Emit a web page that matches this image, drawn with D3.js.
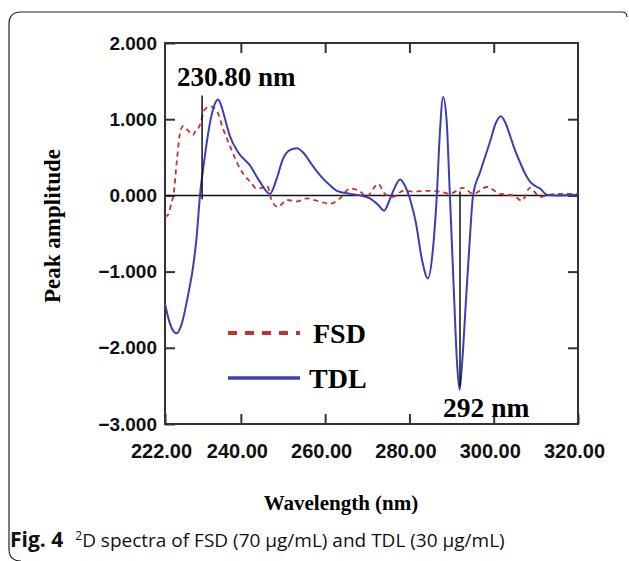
<!DOCTYPE html>
<html>
<head>
<meta charset="utf-8">
<script src="https://cdn.jsdelivr.net/npm/d3@7"></script>
<style>
  body { margin: 0; background: #fff; }
  svg { display: block; }
</style>
</head>
<body>
<div id="chart"></div>
<script>
// values
let tdlWave = [222, 223, 224, 224.8, 226, 227.5, 228.6, 229.5, 230.3, 231.3, 232.5, 233.5, 234.6, 235.5, 236.5, 237.4, 239.3, 242.2, 244.5, 246.9, 248.5, 250, 251.5, 253.3, 255, 256.4, 258, 259.5, 261, 262.8, 265.9, 268.3, 270.6, 272.5, 274, 275, 276.1, 277.8, 279, 280.1, 281.5, 283, 284.4, 285.5, 286.5, 287.2, 288, 288.8, 289.6, 290.5, 291.3, 291.9, 292.5, 293.5, 294.3, 295.1, 296.8, 299.1, 300.5, 301.7, 302.8, 303.9, 305, 306.2, 307.5, 308.6, 310, 311, 312.6, 315, 320];
let tdlAmp = [-1.42, -1.65, -1.78, -1.81, -1.68, -1.30, -0.96, -0.55, 0, 0.45, 0.90, 1.15, 1.26, 1.15, 0.95, 0.78, 0.57, 0.39, 0.18, 0.02, 0.22, 0.48, 0.59, 0.62, 0.55, 0.44, 0.32, 0.22, 0.14, 0.06, 0.02, 0.0, -0.04, -0.12, -0.20, -0.10, 0.05, 0.21, 0.12, -0.04, -0.35, -0.85, -1.09, -0.75, 0.0, 0.8, 1.29, 1.0, 0, -1.2, -2.2, -2.55, -2.2, -1.3, -0.6, 0, 0.31, 0.70, 0.95, 1.04, 0.95, 0.78, 0.6, 0.44, 0.28, 0.18, 0.12, 0.09, 0.01, 0.0, 0.01];

let fsdWave = [222, 222.8, 223.5, 224, 224.8, 225.6, 226.3, 227.5, 228.6, 229.3, 230, 231.5, 232.7, 234.3, 235.8, 237.4, 239.8, 242.2, 243.8, 245, 246.2, 247.4, 248.8, 250.9, 253.3, 255.7, 258, 261.2, 263.5, 265.9, 268.3, 269.9, 271.4, 272.6, 274.2, 276.1, 278.5, 280.9, 284.2, 287.3, 289.6, 292.7, 295.1, 298.4, 301.5, 304.6, 306.7, 308.6, 311, 312.6, 315.7, 320];
let fsdAmp = [-0.28, -0.25, -0.1, 0, 0.45, 0.83, 0.91, 0.85, 0.79, 0.85, 0.89, 1.13, 1.17, 1.11, 0.87, 0.65, 0.35, 0.18, 0.09, 0.10, 0.13, -0.08, -0.15, -0.06, -0.08, -0.04, -0.07, -0.11, -0.04, 0.09, 0.05, -0.02, 0.09, 0.15, 0.02, -0.02, 0.06, 0.05, 0.06, 0.05, 0.02, 0.10, 0.02, 0.11, 0.02, 0, -0.07, 0.10, -0.02, 0, 0.02, 0.02];

let xTicks = [222, 240, 260, 280, 300, 320];
let yTicks = [2, 1, 0, -1, -2, -3];
let seriesNames = ["FSD", "TDL"];
// marked wavelengths: [wavelength, top amplitude, bottom amplitude]
let mark230 = [230.8, 1.31, -0.05];
let mark292 = [292, 0.05, -2.5];

let W = 629, H = 561;
let pLeft = 165, pRight = 578, pTop = 43, pBottom = 424;
let blue = "#3b3fb4", red = "#c9302c";
let serif = "'Liberation Serif', 'Times New Roman', serif";
let sans = "'Liberation Sans', Arial, sans-serif";

var svg = d3.select("#chart").append("svg")
  .attr("width", W)
  .attr("height", H);

// outer frame of the figure
svg.append("path")
  .attr("d", "M627,17 Q627,12 622,12 L21,12 Q9,12 9,24 L9,549 Q9,561 21,561")
  .attr("fill", "none")
  .attr("stroke", "#222")
  .attr("stroke-width", 1.2);

let x = d3.scaleLinear().domain([222, 320]).range([pLeft, pRight]);
let y = d3.scaleLinear().domain([-3, 2]).range([pBottom, pTop]);

let tdl = tdlWave.map((w, i) => [w, tdlAmp[i]]);
let fsd = fsdWave.map((w, i) => [w, fsdAmp[i]]);

// axes (ticks point inward)
svg.append("g")
  .attr("class", "xaxis")
  .attr("transform", "translate(0," + pBottom + ")")
  .call(d3.axisBottom(x).tickValues(xTicks).tickSizeInner(-10).tickSizeOuter(0).tickPadding(20).tickFormat(d3.format(".2f")));
svg.append("g")
  .attr("transform", "translate(0," + pTop + ")")
  .call(d3.axisTop(x).tickValues(xTicks.slice(1, -1)).tickSizeInner(-10).tickSizeOuter(0).tickFormat(""));
svg.append("g")
  .attr("transform", "translate(" + pLeft + ",0)")
  .call(d3.axisLeft(y).tickValues(yTicks).tickSizeInner(-10).tickSizeOuter(0).tickPadding(8).tickFormat(d3.format(".3f")));
svg.append("g")
  .attr("transform", "translate(" + pRight + ",0)")
  .call(d3.axisRight(y).tickValues(yTicks.slice(1, -1)).tickSizeInner(-10).tickSizeOuter(0).tickFormat(""));

svg.selectAll(".domain").remove();
svg.selectAll(".tick line").attr("stroke", "#333").attr("stroke-width", 2);
svg.selectAll(".tick text")
  .attr("fill", "#111")
  .style("font-family", sans)
  .style("font-weight", "bold")
  .style("font-size", "19px");
svg.selectAll(".xaxis text").attr("dx", -4).style("font-size", "20px");

// plot box
svg.append("rect")
  .attr("x", pLeft).attr("y", pTop)
  .attr("width", pRight - pLeft).attr("height", pBottom - pTop)
  .attr("fill", "none")
  .attr("stroke", "#333")
  .attr("stroke-width", 2);

// zero line
svg.append("line")
  .attr("x1", pLeft).attr("x2", pRight)
  .attr("y1", y(0)).attr("y2", y(0))
  .attr("stroke", "#111")
  .attr("stroke-width", 1.5);

let line = d3.line().x(d => x(d[0])).y(d => y(d[1])).curve(d3.curveMonotoneX);

svg.append("path")
  .datum(fsd)
  .attr("d", line)
  .attr("fill", "none")
  .attr("stroke", red)
  .attr("stroke-width", 1.8)
  .attr("stroke-dasharray", "5,4");

svg.append("path")
  .datum(tdl)
  .attr("d", line)
  .attr("fill", "none")
  .attr("stroke", blue)
  .attr("stroke-width", 2);

// marker lines
[mark230, mark292].forEach(m => {
  svg.append("line")
    .attr("x1", x(m[0])).attr("x2", x(m[0]))
    .attr("y1", y(m[1])).attr("y2", y(m[2]))
    .attr("stroke", "#111")
    .attr("stroke-width", 1.5);
});

svg.append("text")
  .attr("x", 177).attr("y", 86)
  .text(mark230[0].toFixed(2) + " nm")
  .style("font-family", serif).style("font-weight", "bold").style("font-size", "27px");

svg.append("text")
  .attr("x", 443).attr("y", 417)
  .text(mark292[0] + " nm")
  .style("font-family", serif).style("font-weight", "bold").style("font-size", "27.5px");

// legend
let legY = [333, 378];
seriesNames.forEach((name, i) => {
  svg.append("line")
    .attr("x1", 228).attr("x2", 300)
    .attr("y1", legY[i]).attr("y2", legY[i])
    .attr("stroke", i == 0 ? red : blue)
    .attr("stroke-width", i == 0 ? 4 : 3.5)
    .attr("stroke-dasharray", i == 0 ? "9,8" : null);
  svg.append("text")
    .attr("x", i == 0 ? 313 : 309).attr("y", legY[i] + 10)
    .text(name)
    .style("font-family", serif).style("font-weight", "bold").style("font-size", "28px");
});

// axis titles
svg.append("text")
  .attr("x", 341).attr("y", 510)
  .attr("text-anchor", "middle")
  .text("Wavelength (nm)")
  .style("font-family", serif).style("font-weight", "bold").style("font-size", "21px");

svg.append("text")
  .attr("transform", "translate(60,226) rotate(-90)")
  .attr("text-anchor", "middle")
  .text("Peak amplitude")
  .style("font-family", serif).style("font-weight", "bold").style("font-size", "23px");

// caption
let cap = svg.append("text")
  .attr("x", 10).attr("y", 547)
  .style("font-family", "'Open Sans', 'Noto Sans', sans-serif")
  .style("font-size", "19px")
  .attr("fill", "#111");
cap.append("tspan").style("font-weight", "bold").style("font-size", "21px").text("Fig. 4");
cap.append("tspan").attr("dx", 12).attr("dy", -7).style("font-size", "12px").text("2");
cap.append("tspan").attr("dy", 7).text("D spectra of FSD (70 μg/mL) and TDL (30 μg/mL)");
</script>
</body>
</html>
